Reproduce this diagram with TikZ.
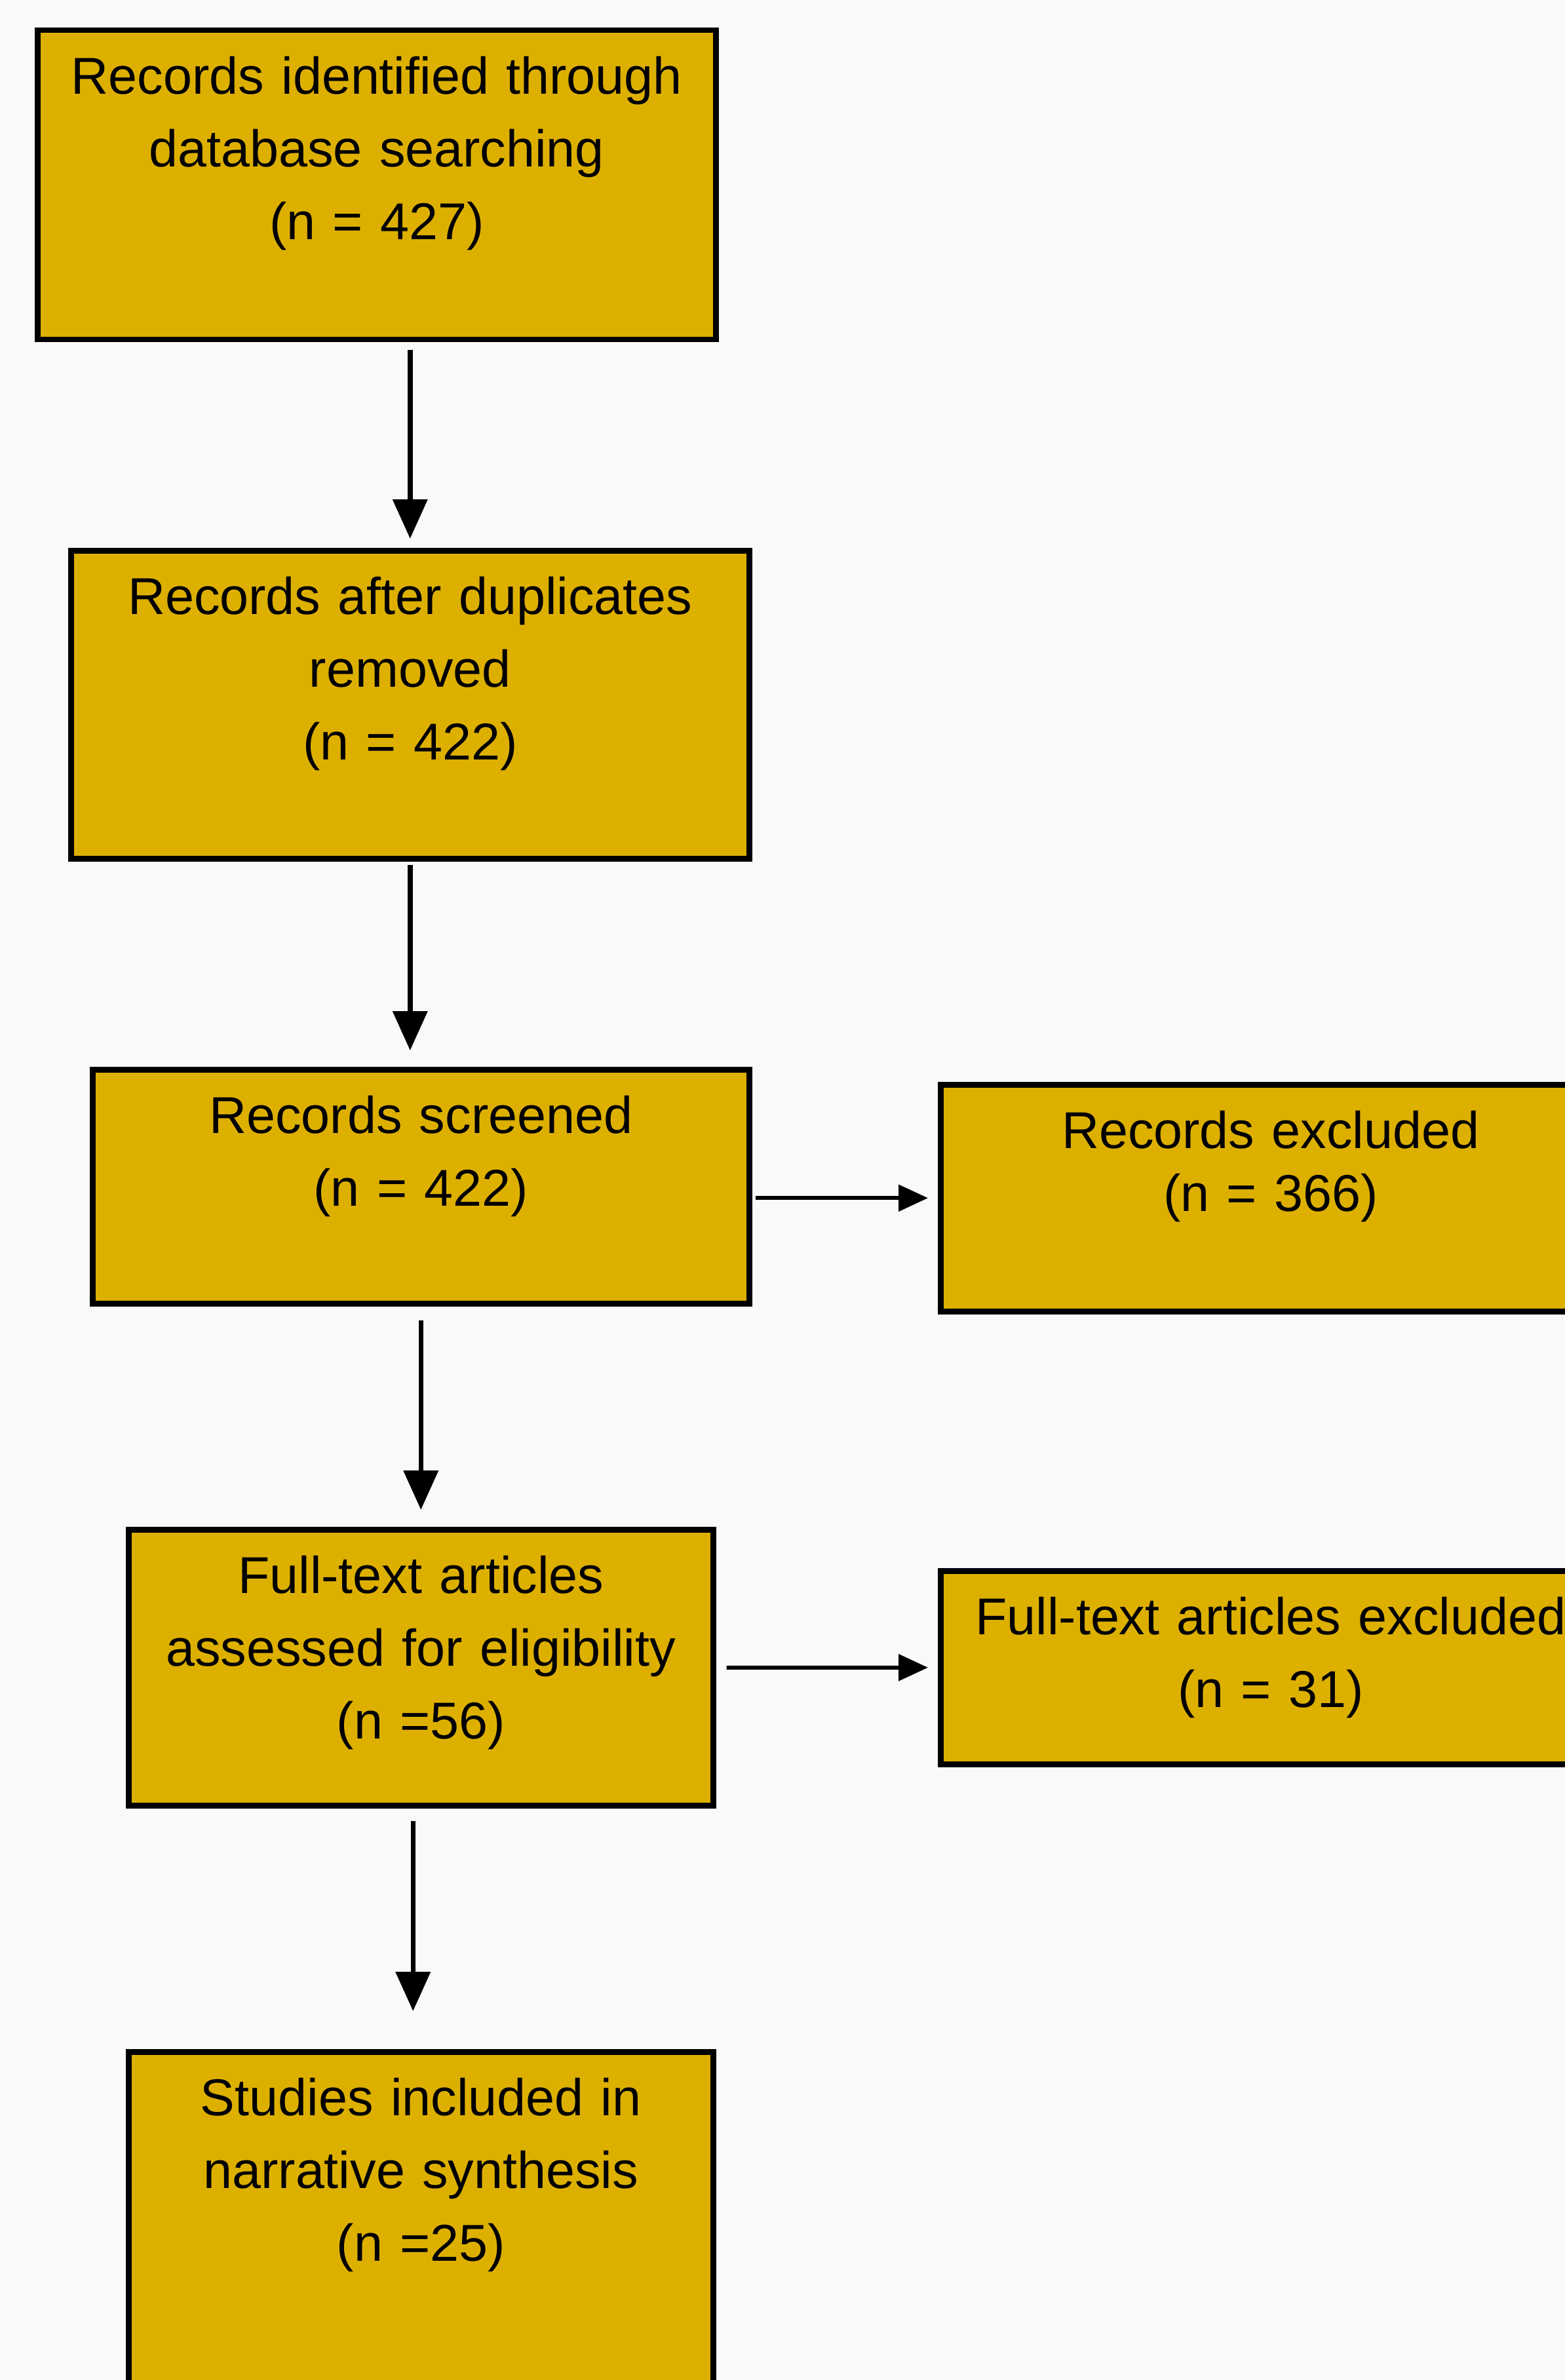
\documentclass[tikz,border=0pt]{standalone}
\usepackage{fontspec}
\setmainfont{Liberation Sans}
\usetikzlibrary{arrows.meta}
\definecolor{boxfill}{HTML}{DDB000}
\definecolor{pagebg}{HTML}{F9F9F9}

\begin{document}
\begin{tikzpicture}
[
box/.style 2 args={draw,fill=boxfill,line width=0.085cm,anchor=north west,inner sep=0pt,
        align=center,text width=#1cm,text height=0.97cm,text depth=#2cm,
        font=\fontsize{22.5}{31.6}\selectfont},
down/.style={line width=0.075cm,-{Triangle[width=0.52cm,length=0.6cm]}},
side/.style={line width=0.06cm,-{Triangle[width=0.4cm,length=0.45cm]}},
]
\useasboundingbox (0,0) rectangle (23.88,-36.32);
\clip (0,0) rectangle (23.88,-36.32);
\fill[pagebg] (0,0) rectangle (23.88,-36.32);

%Place the nodes
\node[box={10.35}{3.75}] (ident) at (0.53,-0.42) {Records identified through\\database searching\\(n = 427)};
\node[box={10.35}{3.73}] (dupl) at (1.04,-8.36) {Records after duplicates\\removed\\(n = 422)};
\node[box={10.02}{2.60}] (screen) at (1.37,-16.28) {Records screened\\(n = 422)};
\node[box={10.07}{2.49},font=\fontsize{22.5}{27.3}\selectfont] (recex) at (14.31,-16.51) {Records excluded\\(n = 366)};
\node[box={8.92}{3.24}] (full) at (1.92,-23.30) {Full-text articles\\assessed for eligibility\\(n =56)};
\node[box={10.07}{1.98}] (fullex) at (14.31,-23.93) {Full-text articles excluded\\(n = 31)};
\node[box={8.92}{4.63}] (incl) at (1.92,-31.27) {Studies included in\\narrative synthesis\\(n =25)};

%Draw the connections
\draw[down,shorten <=0.12cm,shorten >=0.14cm] (ident.south -| dupl.north) -- (dupl.north);
\draw[down,shorten <=0.05cm,shorten >=0.25cm] (dupl.south) -- (screen.north -| dupl.south);
\draw[down,shorten <=0.21cm,shorten >=0.26cm] (screen.south) -- (full.north);
\draw[down,shorten <=0.19cm,shorten >=0.58cm] ([xshift=-0.12cm]full.south) -- ([xshift=-0.12cm]incl.north);
\draw[side,shorten <=0.05cm,shorten >=0.15cm] (screen.east |- recex.west) -- (recex.west);
\draw[side,shorten <=0.16cm,shorten >=0.15cm] (full.east) -- (fullex.west);
\end{tikzpicture}
\end{document}
